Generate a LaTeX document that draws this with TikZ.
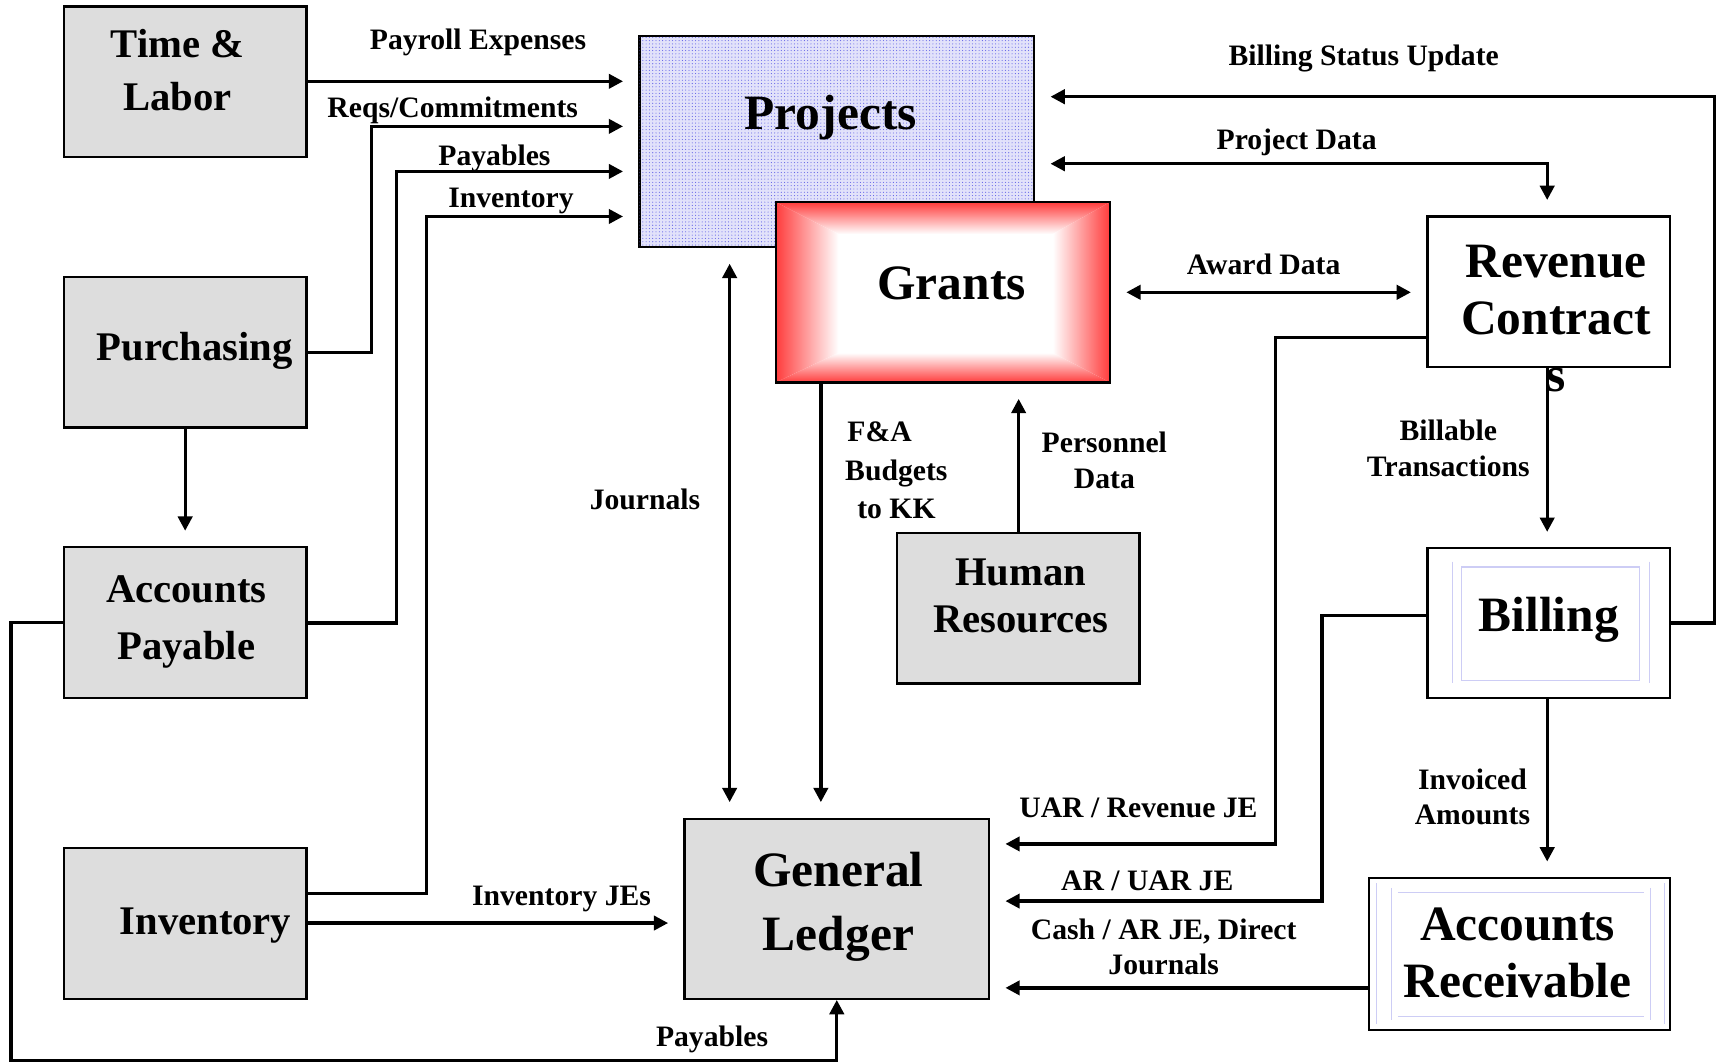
\documentclass[tikz,border=0pt]{standalone}
\usepackage{fontspec}
\setmainfont{Liberation Serif}
\usetikzlibrary{arrows.meta,patterns}
\definecolor{boxgray}{RGB}{221,221,221}
\definecolor{gred}{RGB}{255,60,60}
\definecolor{dotblue}{RGB}{95,95,230}
\definecolor{projbg}{RGB}{226,226,250}
\definecolor{lav}{RGB}{205,205,245}
\tikzset{
  box/.style={draw, line width=2pt, inner sep=0pt, minimum width=221pt, minimum height=137pt},
  graybox/.style={box, fill=boxgray},
  midtext/.style={font=\fontsize{37}{48}\selectfont\bfseries, align=center, inner sep=0pt},
  bigtext/.style={font=\fontsize{45}{52}\selectfont\bfseries, align=center, inner sep=0pt},
  lbl/.style={font=\fontsize{27}{32}\selectfont\bfseries, align=center, inner sep=0pt},
  conn/.style={line width=3pt},
  tip/.tip={Triangle[length=13pt,width=13pt]},
  arr/.style={conn, -tip, shorten >=14pt},
  darr/.style={conn, tip-tip, shorten >=14pt, shorten <=14pt},
  lavline/.style={draw=lav, line width=1pt}
}
\begin{document}
\begin{tikzpicture}[x=1pt,y=-1pt]
\useasboundingbox (0,0) rectangle (1568,967);

% ---- left column boxes
\node[graybox] (tl) at (168.5,74.5) {};
\node[midtext, font=\fontsize{37}{48}\selectfont\bfseries] (tlT) at (161.5,64) {Time \&\\Labor};
\node[graybox] (pur) at (168.5,320.5) {};
\node[midtext] (purT) at (177,319) {Purchasing};
\node[graybox] (ap) at (168.5,566.5) {};
\node[midtext, font=\fontsize{37}{52}\selectfont\bfseries] (apT) at (169.5,566) {Accounts\\Payable};
\node[graybox] (inv) at (168.5,840.5) {};
\node[midtext] (invT) at (187,842) {Inventory};

% ---- Projects
\node[box, minimum width=359pt, minimum height=192pt, fill=projbg,
      postaction={pattern=dots, pattern color=dotblue}] (proj) at (761.5,129) {};
\node[bigtext] (projT) at (756,107) {Projects};

% ---- Grants (rectangular red-to-white shading)
\fill[white] (706,184) rectangle (1010,348);
\shade[top color=gred, bottom color=white] (706,184) -- (1010,184) -- (958,213) -- (763,213) -- cycle;
\shade[top color=white, bottom color=gred] (763,321) -- (958,321) -- (1010,348) -- (706,348) -- cycle;
\shade[left color=gred, right color=white] (706,184) -- (763,213) -- (763,321) -- (706,348) -- cycle;
\shade[left color=white, right color=gred] (958,213) -- (1010,184) -- (1010,348) -- (958,321) -- cycle;
\node[box, minimum width=304pt, minimum height=164pt] (grants) at (858,266) {};
\node[bigtext] (grantsT) at (866,258) {Grants};

% ---- Human Resources
\node[graybox] (hr) at (926.5,553.5) {};
\node[midtext, font=\fontsize{37}{43}\selectfont\bfseries] (hrT) at (929,542) {Human\\Resources};

% ---- General Ledger
\node[graybox, minimum width=277pt, minimum height=164pt] (gl) at (761.5,827) {};
\node[bigtext, font=\fontsize{45}{58}\selectfont\bfseries] (glT) at (763,825) {General\\Ledger};

% ---- right column
\node[box, fill=white] (rev) at (1409.5,265.5) {};
\node[box, fill=white, minimum height=136pt] (bill) at (1409.5,567) {};
\draw[lavline] (1322,511) -- (1322,622) (1501,511) -- (1501,622);
\draw[lavline] (1330,516) rectangle (1492,619);
\node[bigtext] (billT) at (1409.5,564) {Billing};
\node[box, fill=white, minimum width=274pt, minimum height=138pt] (ar) at (1383,868) {};
\draw[lavline] (1253,804) -- (1253,932) (1266,808) -- (1266,928)
               (1502,808) -- (1502,928) (1515,804) -- (1515,932)
               (1272,812) -- (1496,812) (1272,925) -- (1496,925);
\node[bigtext] (arT) at (1381,867) {Accounts\\Receivable};

% ---- connectors
\draw[arr] (tl.east |- 0,74) -- (proj.west |- 0,74);
\draw[arr] (pur.east |- 0,321) -- (338,321) |- (proj.west |- 0,115);
\draw[arr] (ap.east |- 0,567) -- (361,567) |- (proj.west |- 0,156);
\draw[arr] (inv.east |- 0,813) -- (388,813) |- (proj.west |- 0,197);
\draw[arr] (pur.south) -- (ap.north);
\draw[arr] (inv.east |- 0,840) -- (gl.west |- 0,840);
\draw[conn, -tip] (ap.west) -- (10,566.5) -- (10,965) -| (gl.south);
\draw[darr] (proj.south -| 664,0) -- (gl.north -| 664,0);
\draw[arr] (grants.south -| 747,0) -- (gl.north -| 747,0);
\draw[arr] (hr.north -| 927,0) -- (grants.south -| 927,0);
\draw[darr] (grants.east |- 0,266) -- (rev.west |- 0,266);
\draw[arr] (bill.east) -- (1560,567) |- (proj.east |- 0,88);
\draw[darr] (proj.east |- 0,149) -| (rev.north -| 1408,0);
\draw[arr] (rev.south -| 1408,0) -- (bill.north -| 1408,0);
\draw[arr] (rev.west |- 0,307) -- (1161,307) |- (gl.east |- 0,768);
\draw[arr] (bill.west |- 0,560) -- (1203,560) |- (gl.east |- 0,820);
\draw[arr] (ar.west |- 0,899) -- (gl.east |- 0,899);
\draw[arr] (bill.south -| 1408,0) -- (ar.north -| 1408,0);

% Revenue text drawn over the line (the "s" overlaps it)
\node[bigtext] (revT) at (1416,290) {Revenue\\Contract\\s};

% ---- labels
\node[lbl] (l1) at (435,39) {Payroll Expenses};
\node[lbl] (l2) at (412,100) {Reqs/Commitments};
\node[lbl] (l3) at (450,144) {Payables};
\node[lbl] (l4) at (465,183) {Inventory};
\node[lbl] (l5) at (511,818) {Inventory JEs};
\node[lbl] (l6) at (648,946) {Payables};
\node[lbl] (l7) at (587,454) {Journals};
\node[lbl, align=left, font=\fontsize{27}{35}\selectfont\bfseries, anchor=west] (l8) at (769,428) {\hspace*{2pt}F\&A\\Budgets\\\hspace*{11pt}to KK};
\node[lbl] (l9) at (1005,419) {Personnel\\Data};
\node[lbl] (l10) at (1150,241) {Award Data};
\node[lbl] (l11) at (1241,53) {Billing Status Update};
\node[lbl] (l12) at (1180,130) {Project Data};
\node[lbl] (l13) at (1318,408) {Billable\\Transactions};
\node[lbl] (l14) at (1036,735) {UAR / Revenue JE};
\node[lbl] (l15) at (1044,802) {AR / UAR JE};
\node[lbl] (l16) at (1059,862) {Cash / AR JE, Direct\\Journals};
\node[lbl] (l17) at (1340,725) {Invoiced\\Amounts};
\end{tikzpicture}
\end{document}
